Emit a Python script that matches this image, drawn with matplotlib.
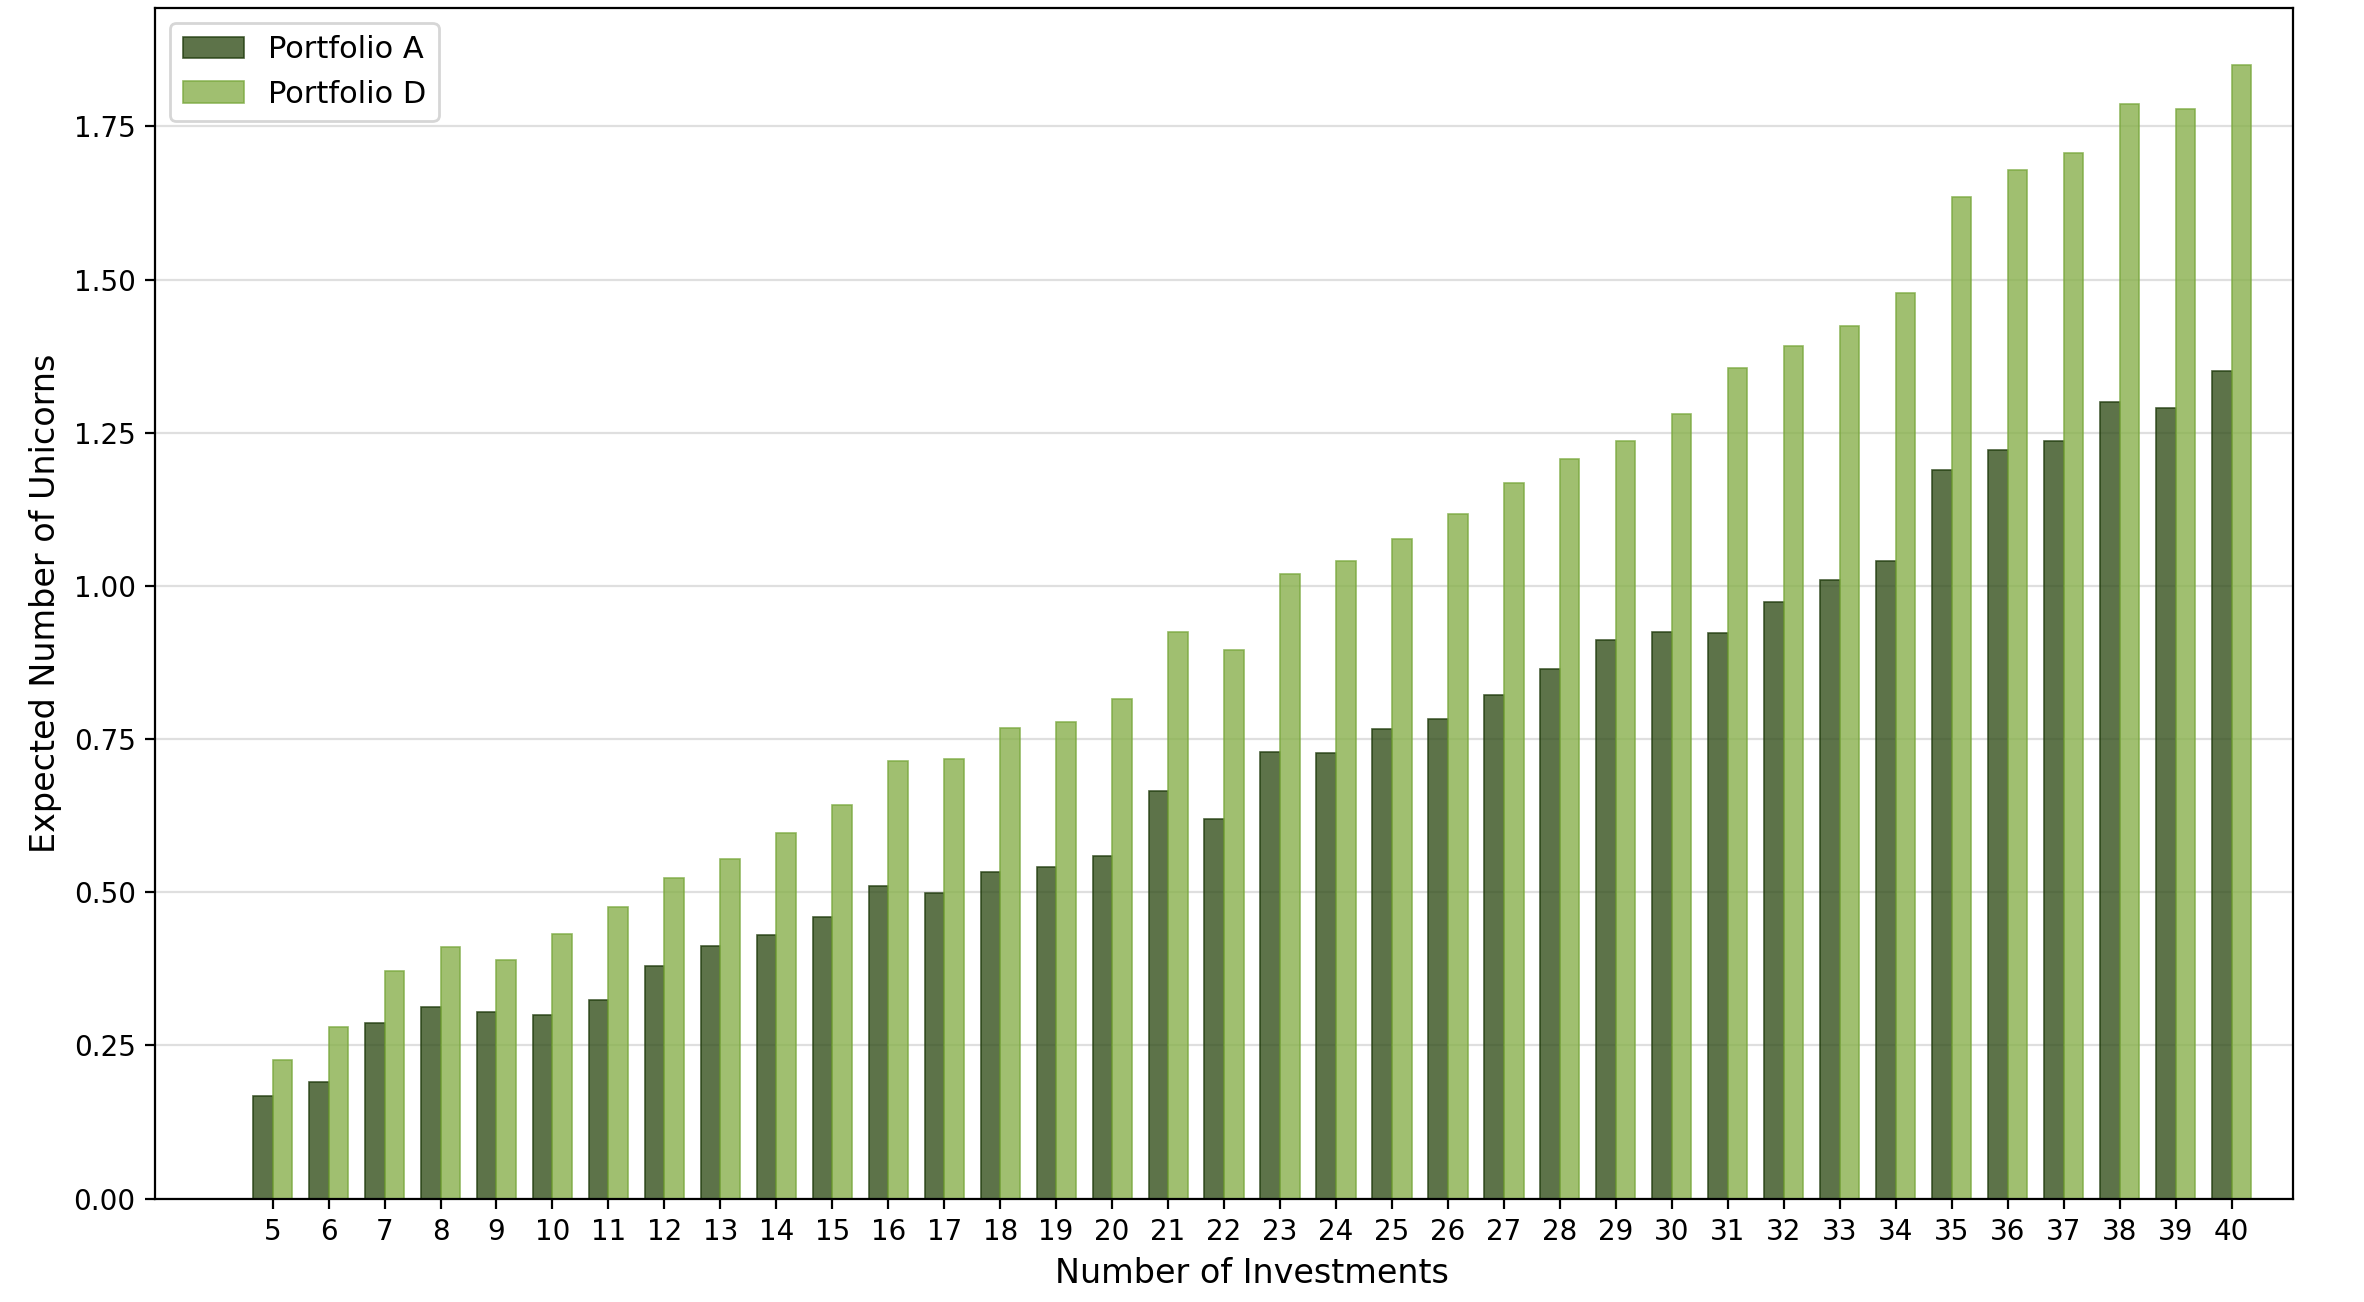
import matplotlib
matplotlib.use('Agg')
import matplotlib.pyplot as plt
import numpy as np

# number of investments
investments = list(range(5, 41))

portfolio_a = [0.167, 0.190, 0.287, 0.312, 0.304, 0.300, 0.324, 0.380, 0.412, 0.430,
               0.459, 0.510, 0.498, 0.533, 0.542, 0.560, 0.665, 0.620, 0.729, 0.727,
               0.766, 0.783, 0.822, 0.864, 0.911, 0.925, 0.923, 0.974, 1.009, 1.040,
               1.190, 1.222, 1.237, 1.300, 1.290, 1.350]

portfolio_d = [0.226, 0.280, 0.371, 0.410, 0.390, 0.432, 0.476, 0.523, 0.555, 0.596,
               0.643, 0.714, 0.717, 0.768, 0.778, 0.815, 0.925, 0.896, 1.019, 1.040,
               1.077, 1.117, 1.168, 1.207, 1.237, 1.281, 1.355, 1.392, 1.424, 1.478,
               1.635, 1.679, 1.706, 1.787, 1.779, 1.851]

series_names = ['Portfolio A', 'Portfolio D']

plt.rcParams['font.family'] = 'DejaVu Sans'
plt.rcParams['font.size'] = 10

fig, ax = plt.subplots(figsize=(11.82, 6.51), dpi=200)
fig.subplots_adjust(left=0.0656, right=0.970, top=0.994, bottom=0.0794)

x = np.array(investments)
width = 0.35

ax.bar(x - width / 2, portfolio_a, width, label=series_names[0],
       color='#34501c', edgecolor='#1f3a0c', linewidth=0.6, alpha=0.8)
ax.bar(x + width / 2, portfolio_d, width, label=series_names[1],
       color='#88b04c', edgecolor='#7aa83e', linewidth=0.6, alpha=0.8)

ax.set_xticks(x)
ax.set_xticklabels([str(v) for v in investments])
xmin, xmax = 2.9, 41.1
ax.set_xlim(xmin, xmax)

ax.yaxis.grid(True, color='#d8d8d8', linewidth=0.8, alpha=0.8)
ax.set_axisbelow(True)

ax.set_xlabel('Number of Investments', fontsize=12)
# label sits under the middle of the tick range, not the axes
ax.xaxis.label.set_x(((x[0] + x[-1]) / 2 - xmin) / (xmax - xmin))
ax.set_ylabel('Expected Number of Unicorns', fontsize=12)
ax.legend(loc='upper left', fontsize=11)

plt.savefig('out.png', dpi=200)
